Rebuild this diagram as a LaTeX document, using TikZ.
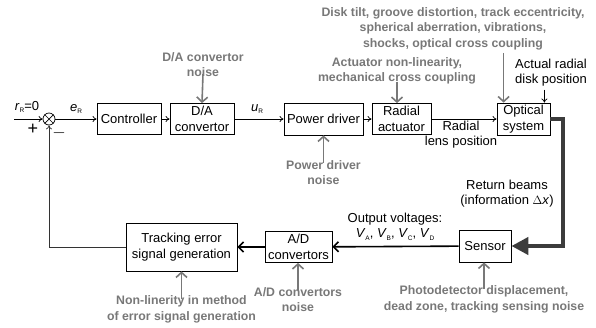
\documentclass[tikz,border=0pt]{standalone}
\usepackage{fontspec}
\setmainfont{Liberation Sans}
\usetikzlibrary{arrows.meta}
\definecolor{noisegray}{RGB}{120,120,120}
\definecolor{beamgray}{RGB}{60,60,60}
\newcommand{\sig}[2]{\textit{#1}\raisebox{-0.35ex}{\fontsize{6.5}{6.5}\selectfont #2}}

\begin{document}
\begin{tikzpicture}[
  x=1pt, y=-1pt,
  font=\fontsize{13}{15.5}\selectfont,
  block/.style={draw, line width=0.8pt, align=center, inner sep=0pt},
  label/.style={align=center, inner sep=0pt},
  noise/.style={align=center, inner sep=0pt, text=noisegray,
    font=\fontsize{12.3}{15.5}\selectfont\bfseries},
  sigline/.style={line width=0.7pt, -{To[length=4pt,width=6pt]}},
  busline/.style={line width=1.6pt, -{Straight Barb[length=5pt,width=10pt]}},
  noiseline/.style={noisegray, line width=1.6pt, -{Straight Barb[length=5pt,width=11pt]}}
]
\useasboundingbox (0,0) rectangle (596,327);

\node[draw, circle, minimum size=12pt, inner sep=0pt, line width=0.7pt] (sum) at (49,119) {};
\draw[line width=0.7pt] (sum.north east) -- (sum.south west) (sum.north west) -- (sum.south east);
\coordinate (in) at (14,119);

\node[block, minimum width=64pt, minimum height=31pt] (ctrl) at (129,119) {Controller};
\node[block, minimum width=64pt, minimum height=31pt] (dac) at (202,119) {D/A\\convertor};
\node[block, minimum width=79pt, minimum height=32pt] (pdrv) at (323.5,119) {Power driver};
\node[block, minimum width=59pt, minimum height=31pt] (ract) at (401.5,119) {Radial\\actuator};
\node[block, minimum width=53pt, minimum height=32pt] (opt) at (523.5,119) {Optical\\system};
\node[block, minimum width=52pt, minimum height=32pt] (sens) at (485,246) {Sensor};
\node[block, minimum width=67pt, minimum height=31pt] (adc) at (298.5,247) {A/D\\convertors};
\node[block, minimum width=111pt, minimum height=48pt] (ted) at (181.5,247) {Tracking error\\signal generation};
\coordinate (beamturn) at (563,119);

\node[label, anchor=south] (rr) at (27,113) {\sig{r}{R}=0};
\node[label] (plus) at (33,129) {\fontsize{18}{18}\selectfont +};
\node[label] (minus) at (59,133) {\fontsize{18}{18}\selectfont $-$};
\node[label] (er) at (76,109) {\sig{e}{R}};
\node[label] (ur) at (257,109) {\sig{u}{R}};
\node[label] (lens) at (461,134.5) {Radial\\lens position};
\node[label] (actual) at (551,72.5) {Actual radial\\disk position};
\node[label] (beams) at (507,193.5) {Return beams\\(information $\Delta$\textit{x})};
\node[label] (volt) at (395,226.5) {Output voltages:\\\sig{V}{A}, \sig{V}{B}, \sig{V}{C}, \sig{V}{D}};

\node[noise] (danoise) at (203,64.5) {D/A convertor\\noise};
\node[noise] (pdnoise) at (323.5,172.5) {Power driver\\noise};
\node[noise] (acnoise) at (397,71) {Actuator non-linearity,\\mechanical cross coupling};
\node[noise] (disturb) at (453,28.5) {Disk tilt, groove distortion, track eccentricity,\\spherical aberration, vibrations,\\shocks, optical cross coupling};
\node[noise] (phnoise) at (484,299.5) {Photodetector displacement,\\dead zone, tracking sensing noise};
\node[noise] (adnoise) at (298,299.5) {A/D convertors\\noise};
\node[noise] (nlnoise) at (181.5,309.5) {Non-linerity in method\\of error signal generation};

\draw[sigline] (in) -- (sum);
\draw[sigline] (sum) -- (ctrl);
\draw[sigline] (ctrl) -- (dac);
\draw[sigline] (dac) -- (pdrv);
\draw[sigline] (pdrv) -- (ract);
\draw[sigline] (ract) -- (opt);
\draw[sigline] ([xshift=-6pt]opt.north east |- actual.south) ++(0,3) -- ([xshift=-6pt]opt.north east);
\draw[beamgray, line width=4.5pt, -{Triangle[length=17pt,width=17pt]}]
  (opt.east) -- (beamturn) |- (sens.east);
\draw[busline] (sens) -- (adc);
\draw[busline] (adc) -- (ted);
\draw[sigline, draw=black!80] (ted.west) -| (sum.south);

\draw[noiseline] ([yshift=3pt]danoise.south) -- (dac.north);
\draw[noiseline] ([yshift=-3pt]pdnoise.north) -- (pdrv.south);
\draw[noiseline] ([yshift=3pt]acnoise.south) -- (acnoise.south |- ract.north);
\draw[noiseline] ([xshift=7pt]opt.north west |- disturb.south) ++(0,3) -- ([xshift=7pt]opt.north west);
\draw[noiseline] ([yshift=-3pt]phnoise.north) -- (phnoise.north |- sens.south);
\draw[noiseline] ([yshift=-3pt]adnoise.north) -- (adnoise.north |- adc.south);
\draw[noiseline] ([yshift=-3pt]nlnoise.north) -- (ted.south);
\end{tikzpicture}
\end{document}
